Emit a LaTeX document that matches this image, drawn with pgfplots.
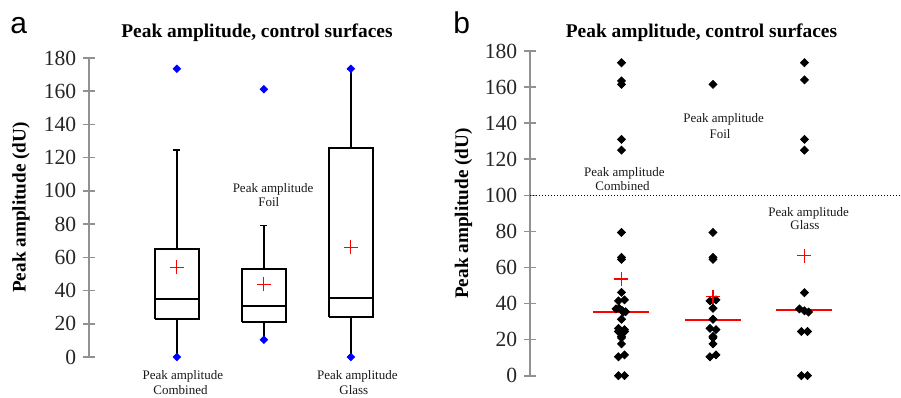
\documentclass[border=0pt]{standalone}
\usepackage{pgfplots}
\pgfplotsset{compat=1.18}
\usepackage{fontspec}
\setmainfont{Liberation Serif}
\newfontfamily\arialfont{Liberation Sans}
\definecolor{axgray}{RGB}{145,145,145}
\tikzset{ann/.style={font=\fontsize{6.5}{7}\selectfont, anchor=base, inner sep=0pt, text=black!90}}
\begin{document}
\begin{tikzpicture}
\path[use as bounding box] (0,0) rectangle (450.5pt,198.5pt);
\pgfplotsset{
  panel/.style={
    scale only axis, clip=false,
    axis x line=none, axis y line=left,
    y axis line style={-, axgray, line width=0.8pt},
    ymin=0, ymax=180, ytick={0,20,...,180},
    tick align=center, major tick length=5.7pt,
    tick style={axgray, line width=0.8pt},
    /pgf/number format/assume math mode=true,
    yticklabel style={font=\fontsize{10.8}{12}\selectfont, text=black!85},
  },
  bx/.style={black, line width=0.95pt, line join=miter, mark=none},
  wk/.style={black, line width=0.85pt, mark=none},
  dots/.style={only marks, mark=square*, mark size=1.4pt, mark options={rotate=45, solid}, black},
  means/.style={only marks, mark=+, mark size=3.5pt, color=red, mark options={draw=red, solid, line width=0.55pt}},
}
% ---------- panel a ----------
\begin{axis}[panel, at={(44.5pt,20pt)}, anchor=south west, width=174pt, height=149.5pt, xmin=-0.01, xmax=3.99]
% Combined
\addplot[wk] coordinates {(1,0) (1,22.7)};
\addplot[wk] coordinates {(1,65) (1,124.6)};
\addplot[wk] coordinates {(0.96,124.6) (1.04,124.6)};
\addplot[bx] coordinates {(0.75,22.7) (1.25,22.7) (1.25,65) (0.75,65) (0.75,22.7)};
\addplot[bx] coordinates {(0.75,35) (1.25,35)};
% Foil
\addplot[wk] coordinates {(2,10.4) (2,21)};
\addplot[wk] coordinates {(2,53) (2,79.2)};
\addplot[wk] coordinates {(1.96,79.2) (2.04,79.2)};
\addplot[bx] coordinates {(1.75,21) (2.25,21) (2.25,53) (1.75,53) (1.75,21)};
\addplot[bx] coordinates {(1.75,30.5) (2.25,30.5)};
% Glass
\addplot[wk] coordinates {(3,0) (3,24.3)};
\addplot[wk] coordinates {(3,126) (3,173.5)};
\addplot[wk] coordinates {(2.96,173.5) (3.04,173.5)};
\addplot[bx] coordinates {(2.75,24.3) (3.25,24.3) (3.25,126) (2.75,126) (2.75,24.3)};
\addplot[bx] coordinates {(2.75,35.7) (3.25,35.7)};
% min / max markers
\addplot[dots, blue, mark size=1.3pt] coordinates {(1,0) (1,173.5) (2,10.4) (2,161.2) (3,0) (3,173.5)};
% means
\addplot[means] coordinates {(1,53.9) (2,43.7) (3,66)};
\node[ann] at (axis cs:1.068,-13.4) {Peak amplitude};
\node[ann] at (axis cs:1.042,-22.5) {Combined};
\node[ann] at (axis cs:2.105,99.2) {Peak amplitude};
\node[ann] at (axis cs:2.057,90.5) {Foil};
\node[ann] at (axis cs:3.074,-13.4) {Peak amplitude};
\node[ann] at (axis cs:3.034,-22.5) {Glass};
\end{axis}
% ---------- panel b ----------
\begin{axis}[panel, at={(265pt,10.65pt)}, anchor=south west, width=185.5pt, height=162.35pt, xmin=0, xmax=4.055]
\addplot[black, line width=0.5pt, dash pattern=on 0.6pt off 0.9pt] coordinates {(0,100) (4.055,100)};
\addplot[dots] coordinates {
(1,173.5) (1,163.4) (1,161.5) (1,131) (1,125)
(1,79.4) (1,65.6) (1,64.5) (1,46.2) (0.967,41.5) (1.033,42)
(0.94,37) (0.975,37.4) (1.01,36) (1.045,35.5) (1.02,35.3)
(1,31.3) (0.967,26.2) (1.033,25.5) (0.967,24.5) (1.033,24.5) (1,21.8) (1,21) (1,17.6) (0.967,10.5) (1.033,11.5) (0.967,0) (1.033,0)};
\addplot[dots] coordinates {
(2,161.5) (2,79.4) (2,65.6) (2,64.5) (1.967,41.5) (2.033,42) (2,37.4) (2,31.3) (1.967,26.2) (2.033,25.5) (2,21.8) (2,21) (2,17.6) (1.967,10.5) (2.033,11.5)};
\addplot[dots] coordinates {
(3,173.5) (3,164) (3,131) (3,125) (3,46) (2.945,37) (3,36) (3.044,35.3) (2.967,24.5) (3.033,24.5) (2.967,0) (3.033,0)};
\addplot[red, line width=1pt] coordinates {(0.694,35.3) (1.306,35.3)};
\addplot[red, line width=1pt] coordinates {(1.694,30.9) (2.306,30.9)};
\addplot[red, line width=1pt] coordinates {(2.694,36.4) (3.306,36.4)};
\addplot[means] coordinates {(1,53.6) (2,43.8) (3,66.4)};
\node[ann] at (axis cs:1.031,110.7) {Peak amplitude};
\node[ann] at (axis cs:1.011,102.5) {Combined};
\node[ann] at (axis cs:2.117,140.5) {Peak amplitude};
\node[ann] at (axis cs:2.077,131.6) {Foil};
\node[ann] at (axis cs:3.046,88.5) {Peak amplitude};
\node[ann] at (axis cs:3.005,80.8) {Glass};
\end{axis}
% ---------- titles and labels ----------
\node[font=\bfseries\fontsize{9.7}{11}\selectfont, anchor=base] at (128.5pt,179.5pt) {Peak amplitude, control surfaces};
\node[font=\bfseries\fontsize{9.7}{11}\selectfont, anchor=base] at (350.75pt,179.6pt) {Peak amplitude, control surfaces};
\node[rotate=90, font=\bfseries\fontsize{9.6}{11}\selectfont] at (10.5pt,94.75pt) {Peak amplitude (dU)};
\node[rotate=90, font=\bfseries\fontsize{9.6}{11}\selectfont] at (231.75pt,91.75pt) {Peak amplitude (dU)};
\node[font=\arialfont\fontsize{15}{15}\selectfont, anchor=base west, inner sep=0pt] at (5pt,181.5pt) {a};
\node[font=\arialfont\fontsize{15}{15}\selectfont, anchor=base west, inner sep=0pt] at (226.5pt,181.8pt) {b};
\end{tikzpicture}
\end{document}
